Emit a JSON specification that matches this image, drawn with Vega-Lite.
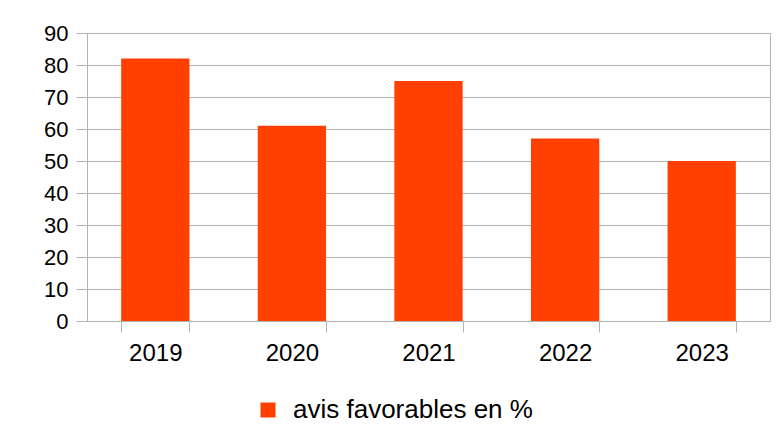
{
  "$schema": "https://vega.github.io/schema/vega-lite/v6.json",
  "width": 683,
  "height": 288,
  "autosize": {"type": "none"},
  "padding": {"left": 87, "top": 33, "right": 8, "bottom": 109},
  "background": "white",
  "data": {"values": [
    {"annee": "2019", "valeur": 82, "serie": "avis favorables en %"},
    {"annee": "2020", "valeur": 61, "serie": "avis favorables en %"},
    {"annee": "2021", "valeur": 75, "serie": "avis favorables en %"},
    {"annee": "2022", "valeur": 57, "serie": "avis favorables en %"},
    {"annee": "2023", "valeur": 50, "serie": "avis favorables en %"}
  ]},
  "mark": {"type": "bar"},
  "encoding": {
    "x": {
      "field": "annee", "type": "nominal",
      "scale": {"paddingInner": 0.5, "paddingOuter": 0.25},
      "axis": {"title": null, "labelAngle": 0, "tickBand": "extent", "tickSize": 11, "labelPadding": 9, "labelFontSize": 24, "grid": false}
    },
    "y": {
      "field": "valeur", "type": "quantitative",
      "scale": {"domain": [0, 90], "nice": false},
      "axis": {"title": null, "values": [0,10,20,30,40,50,60,70,80,90], "tickSize": 11, "labelPadding": 8, "labelFontSize": 22, "grid": true}
    },
    "color": {
      "field": "serie", "type": "nominal",
      "scale": {"range": ["#ff4000"]},
      "legend": {"title": null, "orient": "none", "legendX": 168, "legendY": 364, "symbolType": "square", "symbolSize": 225, "symbolOpacity": 1, "symbolStrokeWidth": 0, "labelOffset": 12, "labelLimit": 400, "labelFontSize": 26}
    }
  },
  "config": {
    "font": "Liberation Sans",
    "view": {"stroke": "#b3b3b3", "strokeWidth": 1},
    "axis": {
      "labelFont": "Liberation Sans", "labelColor": "#000000",
      "domainColor": "#b3b3b3", "tickColor": "#b3b3b3", "gridColor": "#b3b3b3",
      "domainWidth": 1, "tickWidth": 1, "gridWidth": 1
    },
    "legend": {"labelFont": "Liberation Sans", "labelColor": "#000000"}
  }
}
